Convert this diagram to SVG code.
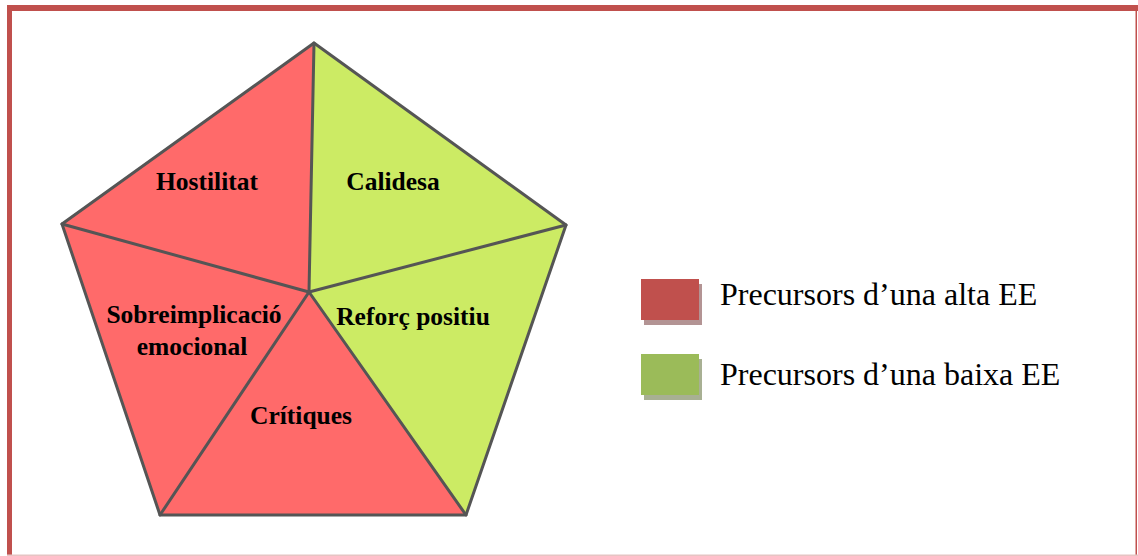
<svg xmlns="http://www.w3.org/2000/svg" width="1138" height="556" viewBox="0 0 1138 556">
<style>
.red{fill:#FF6A6A}
.green{fill:#CCEB64}
.edge{stroke:#555;stroke-width:3;fill:none;stroke-linejoin:round;stroke-linecap:round}
.lbl{font-family:"Liberation Serif",serif;font-weight:bold;font-size:25.5px;fill:#000;text-anchor:middle}
.leg{font-family:"Liberation Serif",serif;font-size:32px;fill:#000}
</style>
<rect x="0" y="0" width="1138" height="556" fill="#fff"/>
<g id="frame">
<rect x="7" y="5" width="1131" height="6" fill="#C0504D"/>
<rect x="7" y="5" width="5" height="551" fill="#C0504D"/>
<rect x="1135.5" y="5" width="1.5" height="551" fill="#C0504D"/>
<rect x="7" y="554.5" width="1131" height="1.5" fill="#E6C4C3"/>
</g>
<g id="hostilitat">
<polygon class="red" points="314,43 62,224 309,292"/>
<text class="lbl" x="207" y="190">Hostilitat</text>
</g>
<g id="calidesa">
<polygon class="green" points="314,43 566,225 309,292"/>
<text class="lbl" x="393" y="190">Calidesa</text>
</g>
<g id="reforc">
<polygon class="green" points="566,225 466,515 309,292"/>
<text class="lbl" x="413" y="325">Reforç positiu</text>
</g>
<g id="critiques">
<polygon class="red" points="466,515 160,515 309,292"/>
<text class="lbl" x="301" y="424">Crítiques</text>
</g>
<g id="sobreimplicacio">
<polygon class="red" points="160,515 62,224 309,292"/>
<text class="lbl" x="194" y="323">Sobreimplicació</text>
<text class="lbl" x="192" y="355">emocional</text>
</g>
<g id="connectors">
<polygon class="edge" points="314,43 566,225 466,515 160,515 62,224"/>
<line class="edge" x1="309" y1="292" x2="314" y2="43"/>
<line class="edge" x1="309" y1="292" x2="566" y2="225"/>
<line class="edge" x1="309" y1="292" x2="466" y2="515"/>
<line class="edge" x1="309" y1="292" x2="160" y2="515"/>
<line class="edge" x1="309" y1="292" x2="62" y2="224"/>
</g>
<g id="legend-alta">
<rect x="644" y="284" width="58" height="41" fill="#B39494"/>
<rect x="641" y="279" width="58" height="41" fill="#C0504D"/>
<text class="leg" x="720" y="305">Precursors d’una alta EE</text>
</g>
<g id="legend-baixa">
<rect x="644" y="359" width="58" height="41" fill="#A8B093"/>
<rect x="641" y="354" width="58" height="41" fill="#9BBB59"/>
<text class="leg" x="720" y="385">Precursors d’una baixa EE</text>
</g>
</svg>
